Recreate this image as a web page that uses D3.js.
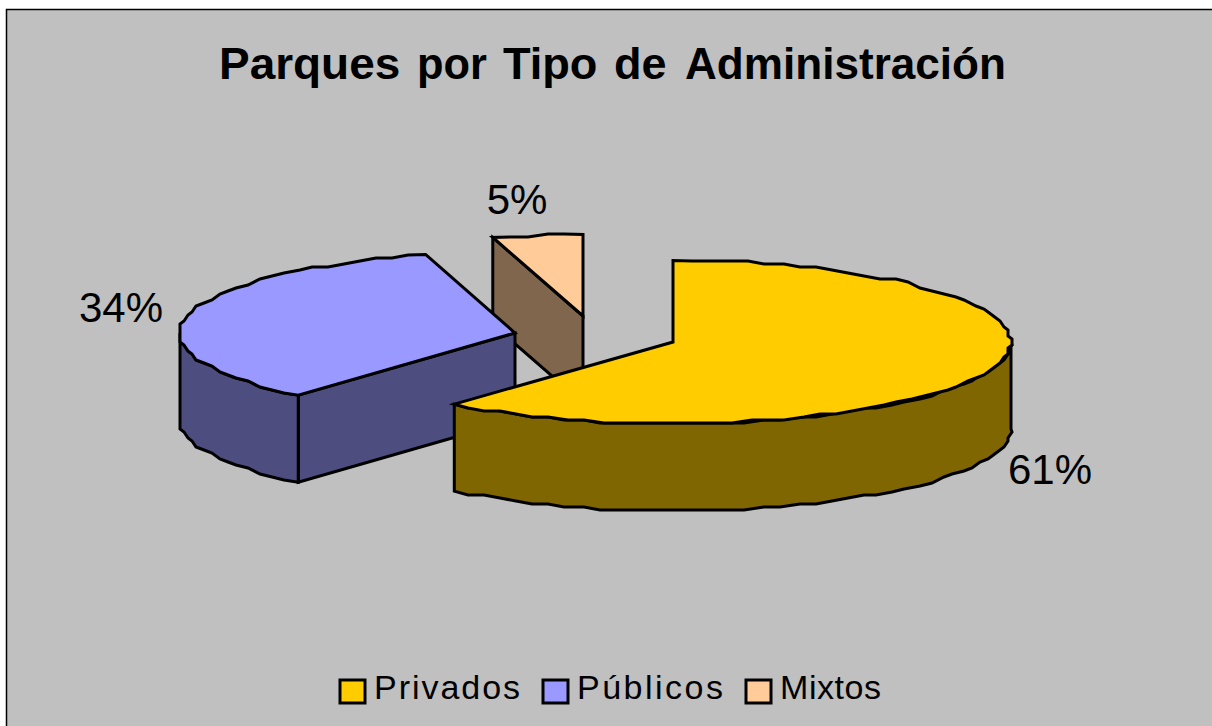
<!doctype html>
<html>
    <head>
        <meta charset="utf-8">
        <title>Parques por Tipo de Administración</title>
        <script src="https://d3js.org/d3.v7.min.js"></script>
        <style>
            html, body { margin: 0; padding: 0; background: #fff; }
            svg { display: block; }
            text { font-family: "Liberation Sans", Arial, sans-serif; fill: #000; }
        </style>
    </head>
    <body>
        <div id="chart"></div>
        <script>
            // data
            var categories = ["Privados", "Públicos", "Mixtos"];
            var shares = [61.2, 34.5, 4.3];
            var shareLabels = ["61%", "34%", "5%"];
            var titleWords = ["Parques", "por", "Tipo", "de", "Administración"];
            var topColors = ["#ffcc00", "#9999ff", "#ffcc99"];
            var sideColors = ["#806600", "#4d4d80", "#80664d"];

            var width = 1212, height = 726;
            var ry = 81.5, depth = 87;

            // each slice is pulled away from the middle of the pie
            var centres = [{x: 673, y: 342, rx: 338}, {x: 515, y: 333, rx: 335}, {x: 583, y: 316, rx: 338}];
            var labelPos = [{x: 1050, y: 484}, {x: 121, y: 322}, {x: 517, y: 214}];
            var legendPos = [{x: 340, tx: 374, w: 146}, {x: 543, tx: 577, w: 146}, {x: 746, tx: 780, w: 101}];
            // slot widths include the trailing space
            var titlePos = [{x: 219, w: 194}, {x: 417, w: 82}, {x: 503, w: 107}, {x: 614, w: 65}, {x: 685, w: 321}];

            var svg = d3.select("#chart").append("svg")
                .attr("width", width)
                .attr("height", height);

            svg.append("rect")
                .attr("x", 6.5).attr("y", 9.5)
                .attr("width", width).attr("height", height)
                .attr("fill", "#c0c0c0")
                .attr("stroke", "#000")
                .attr("stroke-width", 1.5);

            // the title is condensed, so every word gets its own slot
            svg.append("text")
                .attr("y", 79)
                .attr("font-size", 44).attr("font-weight", "bold")
                .selectAll("tspan")
                .data(titleWords)
                .enter().append("tspan")
                .attr("x", function(d, i) { return titlePos[i].x; })
                .attr("textLength", function(d, i) { return titlePos[i].w; })
                .attr("lengthAdjust", "spacingAndGlyphs")
                .text(function(d, i) { return i < titleWords.length - 1 ? d + " " : d; });

            var pie = d3.pie().sort(null).value(function(d) { return d; });
            var slices = pie(shares);

            var line = d3.line();

            function pt(c, a, drop) {
                return [c.x + c.rx * Math.sin(a), c.y - ry * Math.cos(a) + (drop || 0)];
            }

            // the old chart engine snaps its curves to a coarse grid, hence the wobbly edge
            function snap(p) {
                return [Math.round(p[0] / 4) * 4, Math.round(p[1] / 3) * 3];
            }

            function arcPoints(c, a0, a1, drop) {
                var n = Math.max(2, Math.ceil(Math.abs(a1 - a0) / 0.055));
                var pts = [pt(c, a0, drop)];
                d3.range(1, n).forEach(function(i) {
                    pts.push(snap(pt(c, a0 + (a1 - a0) * i / n, drop)));
                });
                pts.push(pt(c, a1, drop));
                return pts;
            }

            function face(pts, color) {
                svg.append("path")
                    .attr("d", line(pts) + "Z")
                    .attr("fill", color)
                    .attr("stroke", "#000")
                    .attr("stroke-width", 3)
                    .attr("stroke-linejoin", "miter");
            }

            // painted back to front
            [2, 1, 0].forEach(function(i) {
                var s = slices[i], c = centres[i];

                // cut face turned to the viewer
                if (i > 0) {
                    face([pt(c, s.startAngle), [c.x, c.y], [c.x, c.y + depth], pt(c, s.startAngle, depth)], sideColors[i]);
                }

                // outer wall, only the part facing front
                var a0 = Math.max(s.startAngle, Math.PI / 2);
                var a1 = Math.min(s.endAngle, 3 * Math.PI / 2);
                if (a1 > a0) {
                    face(arcPoints(c, a0, a1, 0).concat(arcPoints(c, a1, a0, depth)), sideColors[i]);
                }

                // top
                face([[c.x, c.y]].concat(arcPoints(c, s.startAngle, s.endAngle, 0)), topColors[i]);
            });

            svg.selectAll(".share")
                .data(shareLabels)
                .enter().append("text")
                .attr("class", "share")
                .attr("x", function(d, i) { return labelPos[i].x; })
                .attr("y", function(d, i) { return labelPos[i].y; })
                .attr("text-anchor", "middle")
                .attr("font-size", 42)
                .text(function(d) { return d; });

            var legend = svg.selectAll(".legend")
                .data(categories)
                .enter().append("g")
                .attr("class", "legend");

            legend.append("rect")
                .attr("x", function(d, i) { return legendPos[i].x; })
                .attr("y", 680)
                .attr("width", 25).attr("height", 23)
                .attr("fill", function(d, i) { return topColors[i]; })
                .attr("stroke", "#000")
                .attr("stroke-width", 3);

            legend.append("text")
                .attr("x", function(d, i) { return legendPos[i].tx; })
                .attr("y", 699)
                .attr("font-size", 34)
                .attr("textLength", function(d, i) { return legendPos[i].w; })
                .attr("lengthAdjust", "spacing")
                .text(function(d) { return d; });
        </script>
    </body>
</html>
